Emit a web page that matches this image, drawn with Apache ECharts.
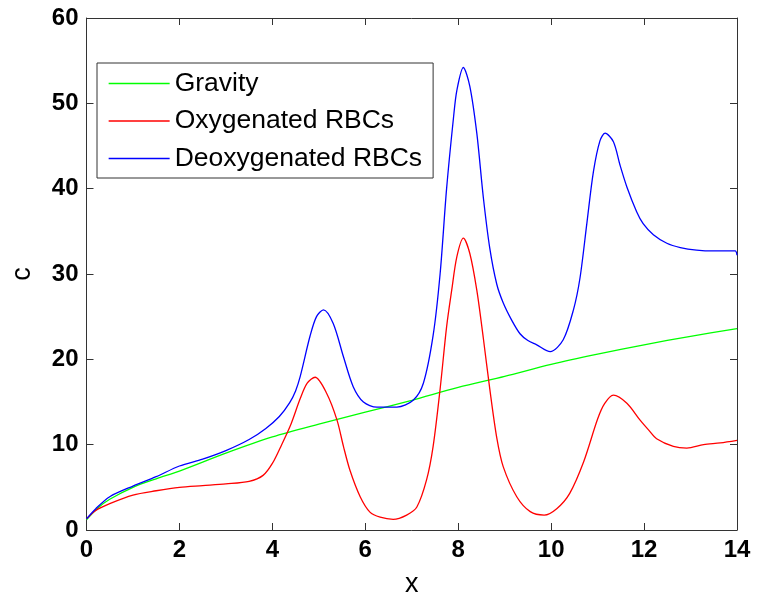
<!DOCTYPE html>
<html>
<head>
<meta charset="utf-8">
<script src="https://cdn.jsdelivr.net/npm/echarts@6/dist/echarts.min.js"></script>
<style>
  html, body { margin: 0; padding: 0; background: #fff; }
  #main { width: 769px; height: 597px; }
</style>
</head>
<body>
<div id="main"></div>
<script>
// values
const gravityX = [0, 0.25, 0.5, 1, 1.5, 2, 3, 4, 5, 6, 7, 8, 9, 10, 11, 12, 13, 14];
const gravityY = [1.2, 2.6, 3.6, 5.0, 6.0, 6.9, 9.0, 10.9, 12.4, 13.8, 15.2, 16.7, 18.0, 19.4, 20.6, 21.7, 22.7, 23.6];

const oxyX = [0, 0.2, 0.5, 1, 1.5, 2, 2.5, 3, 3.5, 3.8, 4.0, 4.2, 4.4, 4.6, 4.75, 4.92, 5.17, 5.39, 5.53, 5.67,
  5.89, 6.1, 6.32, 6.6, 6.89, 7.11, 7.32, 7.46, 7.61, 7.75, 7.86, 7.97, 8.11, 8.25, 8.4, 8.54, 8.68, 8.83, 8.97,
  9.26, 9.55, 9.85, 10.12, 10.4, 10.7, 11.0, 11.15, 11.34, 11.63, 11.91, 12.1, 12.27, 12.63, 12.92, 13.28, 13.64, 14];
const oxyY = [1.3, 2.3, 3.1, 4.1, 4.6, 5.0, 5.2, 5.4, 5.7, 6.4, 7.8, 10.0, 12.4, 15.4, 17.2, 17.9, 16.0, 12.9, 9.8, 7.0,
  3.9, 2.1, 1.5, 1.25, 1.75, 2.7, 5.9, 9.8, 16.5, 23.8, 28.1, 32.0, 34.2, 32.4, 28.1, 22.5, 16.5, 10.8, 7.4,
  3.9, 2.15, 1.75, 2.5, 4.3, 8.0, 13.0, 14.8, 15.8, 14.85, 12.9, 11.7, 10.7, 9.8, 9.6, 10.0, 10.2, 10.5];

const deoxyX = [0, 0.2, 0.5, 1, 1.5, 2, 2.5, 3, 3.5, 3.86, 4.15, 4.37, 4.5, 4.6, 4.81, 4.95, 5.1, 5.31, 5.53, 5.74, 5.96,
  6.25, 6.68, 7.03, 7.25, 7.46, 7.61, 7.75, 7.9, 7.97, 8.11, 8.25, 8.4, 8.54, 8.68, 8.83, 8.97, 9.15, 9.33, 9.5, 9.69,
  9.98, 10.26, 10.48, 10.62, 10.77, 10.91, 11.05, 11.16, 11.34, 11.48, 11.63, 11.84, 11.98, 12.2, 12.49, 12.78, 13.13,
  13.5, 13.96, 14];
const deoxyY = [1.3, 2.5, 3.9, 5.15, 6.25, 7.5, 8.3, 9.3, 10.6, 11.9, 13.3, 14.9, 16.3, 18.0, 22.7, 25.0, 25.8, 24.2, 20.3, 16.8, 15.0,
  14.4, 14.4, 15.2, 17.2, 22.8, 30.0, 40.0, 48.4, 51.5, 54.2, 52.0, 46.5, 39.0, 33.0, 28.8, 26.6, 24.6, 23.0, 22.2, 21.7,
  20.9, 22.3, 25.8, 29.5, 36.0, 42.0, 45.6, 46.5, 45.5, 42.8, 40.2, 37.3, 35.9, 34.6, 33.6, 33.1, 32.8,
  32.7, 32.7, 32.2];

const seriesNames = ['Gravity', 'Oxygenated RBCs', 'Deoxygenated RBCs'];

function zip(xs, ys) {
  return xs.map((x, i) => [x, ys[i]]);
}

const font = 'Liberation Sans, Arial, sans-serif';
const axisColor = '#333';

let myChart = echarts.init(document.getElementById('main'));

// shared style for the four sides of the box
function boxAxis(extra) {
  return Object.assign({
    axisLine: { show: true, onZero: false, lineStyle: { color: axisColor, width: 1 } },
    axisTick: { show: true, inside: true, length: 7, lineStyle: { color: axisColor } },
    splitLine: { show: false }
  }, extra);
}

let option = {
  animation: false,
  backgroundColor: '#fff',
  grid: { left: 86.5, right: 32, top: 18, bottom: 67, outerBoundsMode: 'none' },
  legend: {
    data: seriesNames,
    orient: 'vertical',
    left: 97,
    top: 63,
    padding: [7, 11, 6, 11],
    itemWidth: 61,
    itemHeight: 20,
    itemGap: 10.5,
    backgroundColor: '#fff',
    borderColor: axisColor,
    borderWidth: 1,
    borderRadius: 0,
    itemStyle: { opacity: 0 },
    lineStyle: { width: 1.3 },
    textStyle: { fontFamily: font, fontSize: 26.5, color: '#000' }
  },
  xAxis: [
    boxAxis({
      type: 'value', min: 0, max: 14, interval: 2, position: 'bottom',
      name: 'x', nameLocation: 'middle', nameGap: 41,
      nameTextStyle: { fontFamily: font, fontSize: 27, color: '#000' },
      axisLabel: { margin: 8, fontFamily: font, fontSize: 24, fontWeight: 'bold', color: '#000' }
    }),
    boxAxis({
      type: 'value', min: 0, max: 14, interval: 2, position: 'top',
      axisLabel: { show: false }
    })
  ],
  yAxis: [
    boxAxis({
      type: 'value', min: 0, max: 60, interval: 10, position: 'left',
      name: 'c', nameLocation: 'middle', nameGap: 50,
      nameTextStyle: { fontFamily: font, fontSize: 27, color: '#000' },
      axisLabel: { margin: 8, fontFamily: font, fontSize: 24, fontWeight: 'bold', color: '#000' }
    }),
    boxAxis({
      type: 'value', min: 0, max: 60, interval: 10, position: 'right',
      axisLabel: { show: false }
    })
  ],
  series: [
    {
      name: seriesNames[0], type: 'line', data: zip(gravityX, gravityY),
      symbol: 'none', smooth: 0.3,
      lineStyle: { color: '#00ff00', width: 1.3 }, itemStyle: { color: '#00ff00' }
    },
    {
      name: seriesNames[1], type: 'line', data: zip(oxyX, oxyY),
      symbol: 'none', smooth: 0.3,
      lineStyle: { color: '#ff0000', width: 1.3 }, itemStyle: { color: '#ff0000' }
    },
    {
      name: seriesNames[2], type: 'line', data: zip(deoxyX, deoxyY),
      symbol: 'none', smooth: 0.3,
      lineStyle: { color: '#0000ff', width: 1.3 }, itemStyle: { color: '#0000ff' }
    }
  ]
};

myChart.setOption(option);
</script>
</body>
</html>
